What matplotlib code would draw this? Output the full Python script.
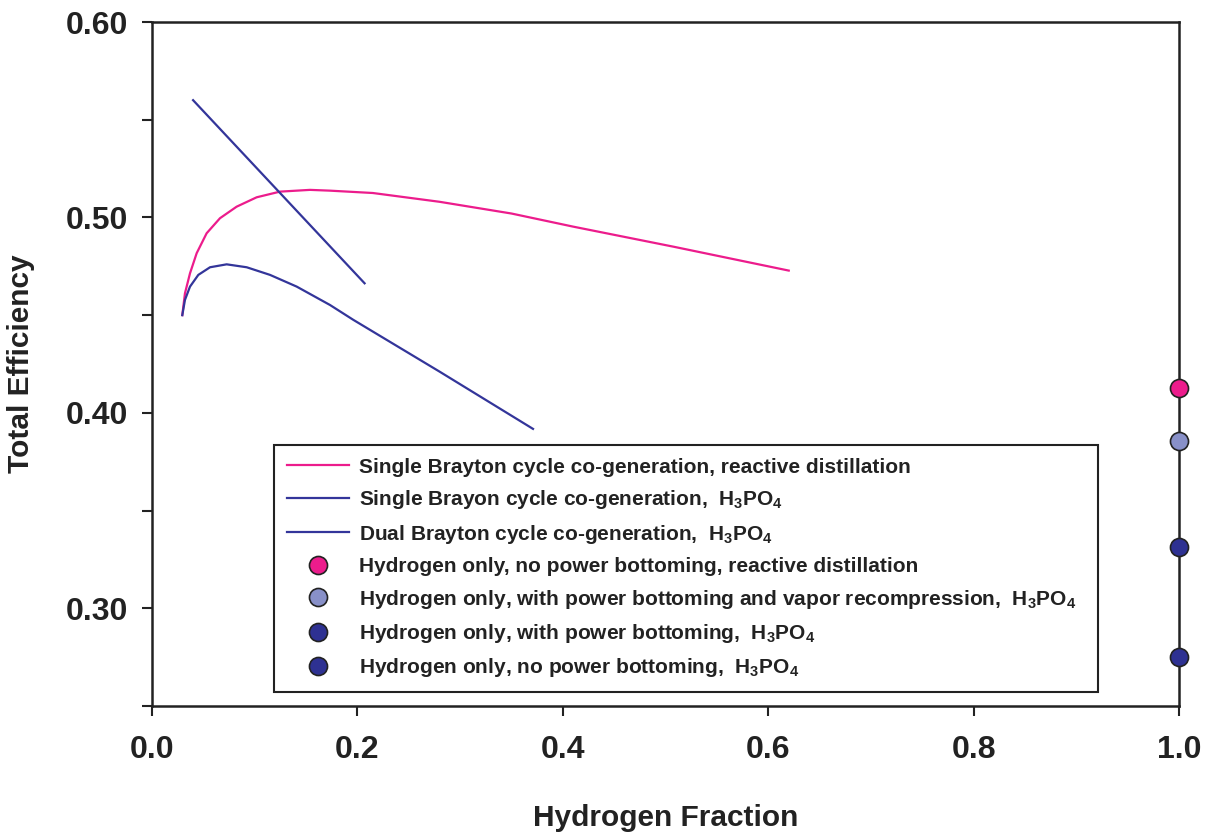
import matplotlib
matplotlib.use("Agg")
import matplotlib.pyplot as plt
from matplotlib.lines import Line2D

plt.rcParams['font.family'] = ['Liberation Sans Narrow', 'Liberation Sans', 'DejaVu Sans']
plt.rcParams['font.weight'] = 'bold'
plt.rcParams['mathtext.fontset'] = 'custom'
plt.rcParams['mathtext.rm'] = 'Liberation Sans:bold'
plt.rcParams['mathtext.bf'] = 'Liberation Sans:bold'
plt.rcParams['mathtext.default'] = 'bf'

# curves
x_single_rd = [0.0295, 0.0321, 0.037, 0.0435, 0.0532, 0.0662, 0.0824, 0.1019, 0.1246,
               0.1538, 0.1733, 0.215, 0.280, 0.350, 0.410, 0.508, 0.620]
y_single_rd = [0.450, 0.4612, 0.4714, 0.4817, 0.4919, 0.4996, 0.5055, 0.5103, 0.5132,
               0.5141, 0.5137, 0.5125, 0.508, 0.502, 0.4953, 0.485, 0.4728]

x_single_h3 = [0.040, 0.207]
y_single_h3 = [0.560, 0.4663]

x_dual_h3 = [0.0295, 0.0321, 0.037, 0.0451, 0.0565, 0.0727, 0.0922, 0.1149, 0.1409,
             0.1733, 0.196, 0.280, 0.371]
y_dual_h3 = [0.450, 0.4578, 0.4646, 0.4706, 0.4745, 0.4760, 0.4745, 0.4706, 0.4646,
             0.4552, 0.4476, 0.4211, 0.3918]

# hydrogen-only points (x = 1.0)
h2_only_x = [1.0, 1.0, 1.0, 1.0]
h2_only_y = [0.4128, 0.3857, 0.3315, 0.2752]
h2_only_colors = ['#EC1C8C', '#8890C8', '#2E3192', '#2E3192']

line_labels = ['Single Brayton cycle co-generation, reactive distillation',
               'Single Brayon cycle co-generation,  H$_3$PO$_4$',
               'Dual Brayton cycle co-generation,  H$_3$PO$_4$']
point_labels = ['Hydrogen only, no power bottoming, reactive distillation',
                'Hydrogen only, with power bottoming and vapor recompression,  H$_3$PO$_4$',
                'Hydrogen only, with power bottoming,  H$_3$PO$_4$',
                'Hydrogen only, no power bottoming,  H$_3$PO$_4$']

pink = '#EC1C8C'
blue = '#33359A'

fig = plt.figure(figsize=(12.1, 8.36), dpi=100)
ax = fig.add_axes([152 / 1210, 1 - 706 / 836, 1027 / 1210, 684 / 836])

ax.plot(x_single_rd, y_single_rd, color=pink, lw=1.6)
ax.plot(x_single_h3, y_single_h3, color=blue, lw=1.6)
ax.plot(x_dual_h3, y_dual_h3, color=blue, lw=1.6)
for xx, yy, c in zip(h2_only_x, h2_only_y, h2_only_colors):
    ax.plot(xx, yy, 'o', ms=13, mfc=c, mec='#222222', mew=1.2, clip_on=False, zorder=5)

ax.set_xlim(0, 1.0)
ax.set_ylim(0.25, 0.60)
ax.set_xticks([0.0, 0.2, 0.4, 0.6, 0.8, 1.0])
ax.set_xticklabels(['0.0', '0.2', '0.4', '0.6', '0.8', '1.0'])
ax.set_yticks([0.25, 0.30, 0.35, 0.40, 0.45, 0.50, 0.55, 0.60])
ax.set_yticklabels(['', '0.30', '', '0.40', '', '0.50', '', '0.60'])
ax.tick_params(direction='out', length=7, width=1.5, color='#222222',
               labelsize=23, labelcolor='#222222')
ax.tick_params(axis='y', pad=10)
ax.tick_params(axis='x', pad=14)
for s in ax.spines.values():
    s.set_linewidth(1.8)
    s.set_color('#222222')

ax.set_xlabel('Hydrogen Fraction', fontsize=21.5, fontweight='bold',
              color='#222222', labelpad=28)
ax.set_ylabel('Total Efficiency', fontsize=21.5, fontweight='bold',
              color='#222222', labelpad=22)

handles = [Line2D([], [], color=pink, lw=1.6),
           Line2D([], [], color=blue, lw=1.6),
           Line2D([], [], color=blue, lw=1.6)]
for c in h2_only_colors:
    handles.append(Line2D([], [], ls='none', marker='o', ms=13, mfc=c,
                          mec='#222222', mew=1.2))
leg = ax.legend(handles, line_labels + point_labels, loc='lower left',
                bbox_to_anchor=(0.1188, 0.0205, 0.8023, 0.0), mode='expand',
                fontsize=15, frameon=True,
                fancybox=False, framealpha=1, edgecolor='#222222',
                handlelength=3.0, handletextpad=0.5, labelspacing=0.55,
                borderpad=0.6, borderaxespad=0)
leg.get_frame().set_linewidth(1.5)
for t in leg.get_texts():
    t.set_color('#222222')

fig.savefig('out.png', dpi=100)
